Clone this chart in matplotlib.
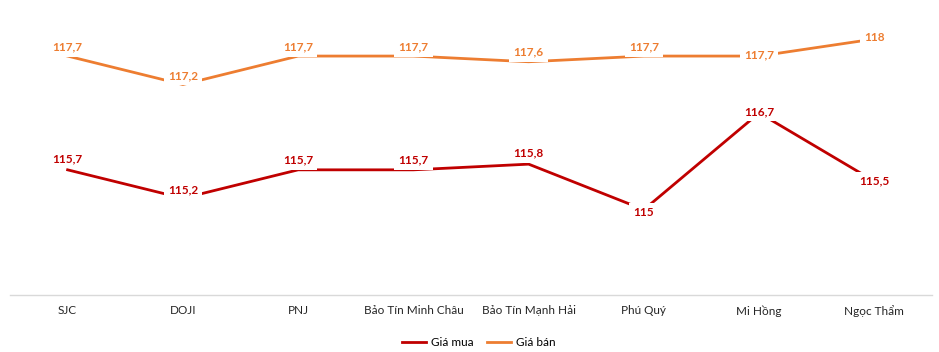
import matplotlib.pyplot as plt
import numpy as np

categories = ['SJC', 'DOJI', 'PNJ', 'Bảo Tín Minh Châu', 'Bảo Tín Mạnh Hải',
              'Phú Quý', 'Mi Hồng', 'Ngọc Thẩm']
gia_mua = [115.7, 115.2, 115.7, 115.7, 115.8, 115.0, 116.7, 115.5]
gia_ban = [117.7, 117.2, 117.7, 117.7, 117.6, 117.7, 117.7, 118.0]

c_mua = '#C00000'
c_ban = '#ED7D31'

# vertical label offsets (points) - mimic Excel label placement
dy_mua = [8, 6, 7, 7, 8, -2, 1, 0]
dy_ban = [6.5, 6.5, 6.5, 6.5, 7, 6.5, 1, 1]

plt.rcParams['font.family'] = ['Lato', 'DejaVu Sans']

fig = plt.figure(figsize=(9.39, 3.52), dpi=100)
ax = fig.add_axes([10 / 939, 0.162, 922 / 939, 0.808])

x = np.arange(len(categories))
ax.plot(x, gia_mua, color=c_mua, lw=2, label='Giá mua', zorder=2)
ax.plot(x, gia_ban, color=c_ban, lw=2, label='Giá bán', zorder=2)

def fmt(v):
    s = f'{v:g}'
    return s.replace('.', ',')

for ys, dys, col in [(gia_mua, dy_mua, c_mua), (gia_ban, dy_ban, c_ban)]:
    for xi, yi, d in zip(x, ys, dys):
        ax.annotate(fmt(yi), (xi, yi), xytext=(0, d), textcoords='offset points',
                    ha='center', va='center', fontsize=8.5, fontweight='bold', color=col,
                    bbox=dict(boxstyle='square,pad=0.35', fc='white', ec='none'), zorder=3)

ax.set_xlim(-0.5, len(categories) - 0.5)
ax.set_ylim(113.5, 118.5)
ax.set_xticks(x)
ax.set_xticklabels(categories, fontsize=8.5, color='#262626')
ax.tick_params(axis='x', length=0, pad=7.5)
ax.set_yticks([])
for s in ['top', 'left', 'right']:
    ax.spines[s].set_visible(False)
ax.spines['bottom'].set_color('#d9d9d9')
ax.spines['bottom'].set_linewidth(1)

fig.legend(loc='center', bbox_to_anchor=(0.51, 1 - 343 / 352), ncol=2, frameon=False,
           fontsize=8.5, handlelength=2, columnspacing=1.2, handletextpad=0.4)

fig.savefig('out.png', dpi=100)
